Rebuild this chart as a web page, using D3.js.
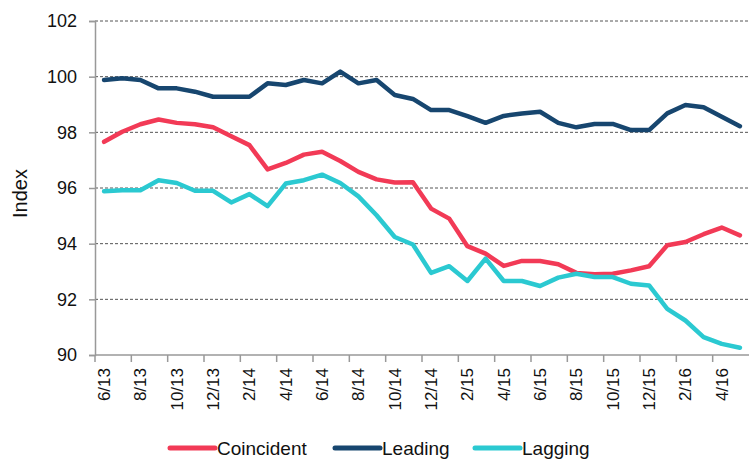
<!DOCTYPE html>
<html>
<head>
<meta charset="utf-8">
<script src="https://cdn.jsdelivr.net/npm/d3@7/dist/d3.min.js"></script>
<style>
  body { margin: 0; background: #fff; }
  #chart { width: 752px; height: 460px; }
  text { font-family: 'Liberation Sans', Arial, sans-serif; fill: #111; }
</style>
</head>
<body>
<div id="chart"></div>
<script>
const months = [
  '6/13', '7/13', '8/13', '9/13', '10/13', '11/13', '12/13', '1/14', '2/14', '3/14', '4/14', '5/14',
  '6/14', '7/14', '8/14', '9/14', '10/14', '11/14', '12/14', '1/15', '2/15', '3/15', '4/15', '5/15',
  '6/15', '7/15', '8/15', '9/15', '10/15', '11/15', '12/15', '1/16', '2/16', '3/16', '4/16', '5/16',
];

const coincident = [
  97.66, 98.02, 98.29, 98.46, 98.34, 98.29, 98.18, 97.86, 97.54, 96.67, 96.90, 97.20,
  97.30, 96.97, 96.58, 96.31, 96.20, 96.21, 95.26, 94.90, 93.91, 93.64, 93.20, 93.38,
  93.38, 93.26, 92.95, 92.90, 92.92, 93.04, 93.19, 93.94, 94.06, 94.34, 94.58, 94.30,
];
const leading = [
  99.88, 99.94, 99.88, 99.58, 99.58, 99.46, 99.28, 99.28, 99.28, 99.76, 99.70, 99.88,
  99.76, 100.18, 99.76, 99.88, 99.34, 99.20, 98.80, 98.80, 98.58, 98.34, 98.59, 98.68,
  98.74, 98.34, 98.18, 98.30, 98.30, 98.08, 98.08, 98.68, 98.98, 98.90, 98.56, 98.22,
];
const lagging = [
  95.88, 95.92, 95.92, 96.28, 96.18, 95.90, 95.90, 95.48, 95.78, 95.35, 96.16, 96.28,
  96.48, 96.18, 95.70, 95.02, 94.24, 93.97, 92.95, 93.19, 92.66, 93.46, 92.66, 92.66,
  92.48, 92.78, 92.92, 92.80, 92.80, 92.56, 92.50, 91.66, 91.24, 90.64, 90.40, 90.26,
];

const yTicks = [90, 92, 94, 96, 98, 100, 102];

const series = [
  { name: 'Coincident', values: coincident, color: '#f23a56' },
  { name: 'Leading', values: leading, color: '#17466f' },
  { name: 'Lagging', values: lagging, color: '#2bc9d1' },
];

const margin = { left: 95, top: 21, right: 3, bottom: 105 };
const width = 752;
const height = 460;

const svg = d3.select('#chart').append('svg')
  .attr('width', width)
  .attr('height', height);

const x = d3.scaleBand()
  .domain(months)
  .range([margin.left, width - margin.right]);
const y = d3.scaleLinear()
  .domain([90, 102])
  .range([height - margin.bottom, margin.top]);

// gridlines (no line at 90, the axis sits there)
svg.append('g')
  .attr('class', 'grid')
  .selectAll('line')
  .data(yTicks.filter((d) => d > 90))
  .enter()
  .append('line')
  .attr('x1', margin.left)
  .attr('x2', width - margin.right)
  .attr('y1', (d) => y(d))
  .attr('y2', (d) => y(d))
  .attr('stroke', '#555')
  .attr('stroke-width', 1)
  .attr('stroke-dasharray', '3,2');

// y axis
const yAxis = svg.append('g')
  .attr('transform', `translate(${margin.left},0)`)
  .call(d3.axisLeft(y).tickValues(yTicks).tickSize(6).tickPadding(12));
yAxis.select('.domain').attr('stroke', '#999').attr('stroke-width', 1.5);
yAxis.selectAll('.tick line').attr('stroke', '#999').attr('stroke-width', 1.5);
yAxis.selectAll('.tick text')
  .attr('font-size', 18)
  .attr('font-family', null)
  .attr('fill', '#111');

// x axis: ticks between categories every 2 months, labels on even months
const xAxis = svg.append('g')
  .attr('transform', `translate(0,${y(90)})`);
xAxis.append('line')
  .attr('x1', margin.left)
  .attr('x2', width - margin.right)
  .attr('stroke', '#999')
  .attr('stroke-width', 1.5);
xAxis.selectAll('line.tick')
  .data(months.filter((d, i) => i % 2 === 0))
  .enter()
  .append('line')
  .attr('class', 'tick')
  .attr('x1', (d) => x(d))
  .attr('x2', (d) => x(d))
  .attr('y1', 0)
  .attr('y2', 7)
  .attr('stroke', '#999')
  .attr('stroke-width', 1.5);
xAxis.selectAll('text')
  .data(months.filter((d, i) => i % 2 === 0))
  .enter()
  .append('text')
  .attr('transform', (d) => `translate(${x(d) + x.bandwidth() / 2 + 6},13) rotate(-90)`)
  .attr('text-anchor', 'end')
  .attr('font-size', 17)
  .text((d) => d);

// y title
svg.append('text')
  .attr('transform', `translate(${27},${y(95.8)}) rotate(-90)`)
  .attr('text-anchor', 'middle')
  .attr('font-size', 20)
  .text('Index');

// lines
const line = d3.line()
  .x((d, i) => x(months[i]) + x.bandwidth() / 2)
  .y((d) => y(d));

svg.append('g')
  .attr('class', 'plots')
  .selectAll('path')
  .data([series[1], series[0], series[2]])
  .enter()
  .append('path')
  .attr('d', (d) => line(d.values))
  .attr('fill', 'none')
  .attr('stroke', (d) => d.color)
  .attr('stroke-width', 4.5)
  .attr('stroke-linejoin', 'round')
  .attr('stroke-linecap', 'round');

// legend
const legendX = [170, 335, 475];
const legend = svg.append('g')
  .attr('class', 'legend')
  .selectAll('g')
  .data(series)
  .enter()
  .append('g')
  .attr('transform', (d, i) => `translate(${legendX[i]},448)`);
legend.append('line')
  .attr('x1', 0)
  .attr('x2', 45)
  .attr('stroke', (d) => d.color)
  .attr('stroke-width', 5)
  .attr('stroke-linecap', 'round');
legend.append('text')
  .attr('x', 47)
  .attr('dy', '0.35em')
  .attr('font-size', 19)
  .text((d) => d.name);
</script>
</body>
</html>
